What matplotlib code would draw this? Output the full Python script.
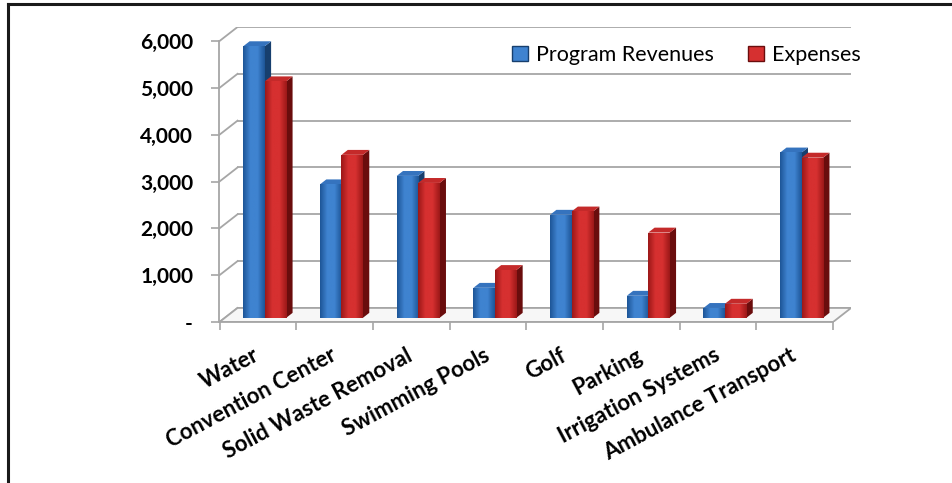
import numpy as np
import matplotlib.pyplot as plt
from matplotlib.patches import Polygon, Patch
from matplotlib.lines import Line2D
from matplotlib.colors import LinearSegmentedColormap
from matplotlib.ticker import FuncFormatter

plt.rcParams['font.family'] = ['Lato', 'DejaVu Sans']

# Daten
kategorien = ['Water', 'Convention Center', 'Solid Waste Removal', 'Swimming Pools',
              'Golf', 'Parking', 'Irrigation Systems', 'Ambulance Transport']
einnahmen = [5800, 2850, 3030, 640, 2200, 470, 210, 3530]
ausgaben = [5050, 3480, 2880, 1020, 2270, 1820, 300, 3420]
y_ticks = [0, 1000, 2000, 3000, 4000, 5000, 6000]

# Pseudo-3D: Versatz der Rueckwand in Datenkoordinaten
DX, DY = 0.235, 300
TIEFE_VORNE, TIEFE_BALKEN = 0.3, 0.35
BREITE = 0.28
GRAU = '#a6a6a6'

# Farben: (Rand, Mitte) der Vorderseite, Seite, Deckel
farben = {
    'blau': (('#1d5597', '#3f83d0'), '#173f6e', '#3573be'),
    'rot': (('#9c1818', '#d63030'), '#6a0d0d', '#c42a2a'),
}

fig = plt.figure(figsize=(9.53, 4.83), dpi=100)
ax = fig.add_axes([219.5 / 953, 161 / 483, 631.6 / 953, 295 / 483])

# Boden
boden = Polygon([(-0.5, 0), (7.5, 0), (7.5 + DX, DY), (-0.5 + DX, DY)],
                closed=True, facecolor='#f7f7f7', edgecolor=GRAU, lw=1.3, zorder=1)
ax.add_patch(boden)

# Seitenwand und Rueckwand (Gitterlinien)
for v in y_ticks:
    ax.plot([-0.5, -0.5 + DX], [v, v + DY], color=GRAU, lw=1.3, zorder=0.5)
    ax.plot([-0.5 + DX, 7.5 + DX], [v + DY, v + DY], color=GRAU, lw=1.3, zorder=0.5)


def zeichne_balken(x0, hoehe, farbe, z):
    (rand, mitte), seite, deckel = farben[farbe]
    y0 = TIEFE_VORNE * DY
    dx, dy = TIEFE_BALKEN * DX, TIEFE_BALKEN * DY
    # Seite und Deckel
    ax.add_patch(Polygon([(x0 + BREITE, y0), (x0 + BREITE + dx, y0 + dy),
                          (x0 + BREITE + dx, y0 + hoehe + dy), (x0 + BREITE, y0 + hoehe)],
                         closed=True, facecolor=seite, edgecolor='none', zorder=z + 0.1))
    ax.add_patch(Polygon([(x0, y0 + hoehe), (x0 + BREITE, y0 + hoehe),
                          (x0 + BREITE + dx, y0 + hoehe + dy), (x0 + dx, y0 + hoehe + dy)],
                         closed=True, facecolor=deckel, edgecolor='none', zorder=z + 0.1))
    vorne = ax.bar(x0, hoehe, width=BREITE, bottom=y0, align='edge',
                   color=mitte, edgecolor='none', zorder=z + 0.2)[0]
    # Verlauf auf der Vorderseite
    cmap = LinearSegmentedColormap.from_list('v', [rand, mitte, mitte, rand])
    bild = ax.imshow(np.linspace(0, 1, 64).reshape(1, -1), cmap=cmap, aspect='auto',
                     extent=(x0, x0 + BREITE, y0, y0 + hoehe), zorder=z + 0.3)
    bild.set_clip_path(vorne)


for i in range(len(kategorien)):
    x_links = i - 0.26 + TIEFE_VORNE * DX
    zeichne_balken(x_links, einnahmen[i], 'blau', 2 + i)
    zeichne_balken(x_links + BREITE, ausgaben[i], 'rot', 2.5 + i)

ax.set_xlim(-0.5, 7.5 + DX)
ax.set_ylim(0, 6000 + DY)

# Achsen
for s in ['top', 'right']:
    ax.spines[s].set_visible(False)
ax.spines['left'].set_bounds(0, 6000)
ax.spines['bottom'].set_bounds(-0.5, 7.5)
for s in ['left', 'bottom']:
    ax.spines[s].set_color(GRAU)
    ax.spines[s].set_linewidth(1.3)
    ax.spines[s].set_zorder(1.5)

ax.set_yticks(y_ticks)
ax.yaxis.set_major_formatter(FuncFormatter(lambda v, p: '-' if v == 0 else f'{v:,.0f}'))
ax.tick_params(axis='y', length=6, width=1.2, color=GRAU, pad=13, labelsize=15)
for t in ax.get_yticklabels():
    t.set_fontweight('bold')

ax.set_xticks(range(len(kategorien)))
ax.set_xticks(np.arange(-0.5, 8, 1), minor=True)
ax.set_xticklabels(kategorien, rotation=28, ha='right', va='center',
                   rotation_mode='anchor', fontsize=16, fontweight='bold')
ax.tick_params(axis='x', which='major', length=0, pad=23)
ax.tick_params(axis='x', which='minor', length=6, width=1.2, color=GRAU)

# Legende
griffe = [Patch(facecolor=farben['blau'][0][1], edgecolor=farben['blau'][1], label='Program Revenues'),
          Patch(facecolor=farben['rot'][0][1], edgecolor=farben['rot'][1], label='Expenses')]
fig.legend(handles=griffe, loc='center right', bbox_to_anchor=(880 / 953, 1 - 55 / 483),
           ncol=2, frameon=False, fontsize=15.5, handlelength=0.75, handleheight=0.75,
           handletextpad=0.35, columnspacing=1.6)

# Rahmen (links und oben)
fig.add_artist(Line2D([8.5 / 953, 8.5 / 953], [0, 1 - 4 / 483], transform=fig.transFigure,
                      color='#1a1a1a', lw=2.2))
fig.add_artist(Line2D([8.5 / 953, 1], [1 - 4 / 483, 1 - 4 / 483], transform=fig.transFigure,
                      color='#1a1a1a', lw=2.2))

fig.savefig('out.png', dpi=100)
